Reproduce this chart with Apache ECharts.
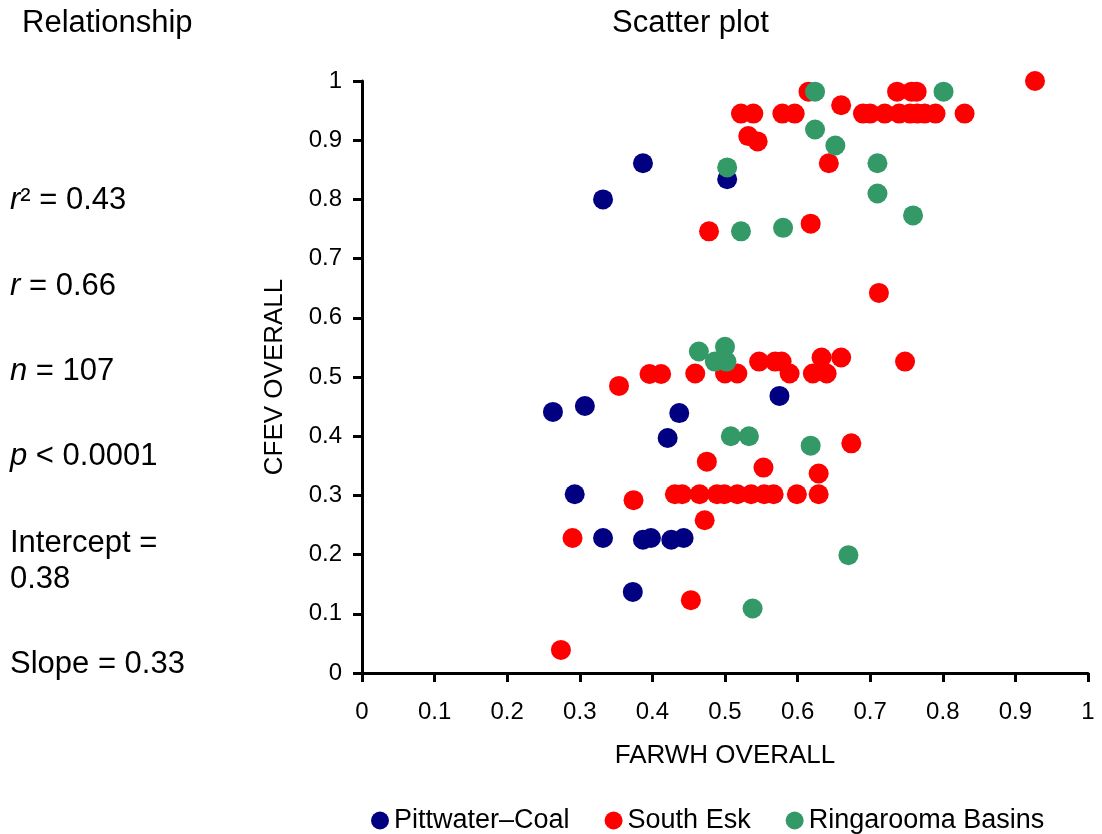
<!DOCTYPE html>
<html>
<head>
<meta charset="utf-8">
<script src="https://cdn.jsdelivr.net/npm/echarts@6/dist/echarts.min.js"></script>
<style>
  html, body { margin: 0; padding: 0; background: #fff; }
  #chart { width: 1102px; height: 834px; }
</style>
</head>
<body>
<div id="chart"></div>
<script>
// FARWH overall (x), CFEV overall (y) per catchment group
const pittwaterX = [0.387, 0.332, 0.503, 0.263, 0.307, 0.437, 0.421, 0.575, 0.293, 0.332, 0.387, 0.398, 0.426, 0.443, 0.373];
const pittwaterY = [0.861, 0.800, 0.834, 0.441, 0.451, 0.439, 0.397, 0.468, 0.302, 0.228, 0.225, 0.228, 0.225, 0.228, 0.137];

const southEskX = [
  0.615, 0.737, 0.757, 0.764, 0.927,
  0.522, 0.539, 0.579, 0.596, 0.660,
  0.690, 0.700, 0.720, 0.740, 0.755, 0.765, 0.775, 0.790, 0.830,
  0.532, 0.545, 0.643, 0.478, 0.618, 0.712,
  0.354, 0.396, 0.412, 0.459, 0.500, 0.517, 0.547, 0.569, 0.578, 0.589,
  0.621, 0.640, 0.633, 0.660, 0.748, 0.674, 0.475, 0.553, 0.629,
  0.431, 0.441, 0.465, 0.489, 0.499, 0.517, 0.536, 0.554, 0.567, 0.599, 0.629,
  0.374, 0.472, 0.290, 0.453, 0.274
];
const southEskY = [
  0.982, 0.982, 0.982, 0.982, 1.000,
  0.945, 0.945, 0.945, 0.945, 0.959,
  0.945, 0.945, 0.945, 0.945, 0.945, 0.945, 0.945, 0.945, 0.945,
  0.907, 0.898, 0.861, 0.746, 0.759, 0.642,
  0.485, 0.505, 0.505, 0.506, 0.506, 0.506, 0.526, 0.526, 0.526, 0.506,
  0.506, 0.506, 0.533, 0.533, 0.526, 0.388, 0.357, 0.347, 0.337,
  0.302, 0.302, 0.302, 0.302, 0.302, 0.302, 0.302, 0.302, 0.302, 0.302, 0.302,
  0.292, 0.258, 0.228, 0.123, 0.039
];

const ringaroomaX = [0.624, 0.801, 0.624, 0.652, 0.710, 0.710, 0.759, 0.503, 0.522, 0.580, 0.464, 0.500, 0.486, 0.502, 0.508, 0.533, 0.618, 0.670, 0.538];
const ringaroomaY = [0.982, 0.982, 0.918, 0.891, 0.861, 0.810, 0.773, 0.854, 0.746, 0.752, 0.543, 0.551, 0.526, 0.526, 0.400, 0.400, 0.384, 0.199, 0.109];

const seriesNames = ['Pittwater\u2013Coal', 'South Esk', 'Ringarooma Basins'];
const seriesColors = ['#000080', '#ff0000', '#339966'];

const statLines = [
  { text: '{i|r}\u00b2 = 0.43', y: 199 },
  { text: '{i|r} = 0.66', y: 285 },
  { text: '{i|n} = 107', y: 370 },
  { text: '{i|p} < 0.0001', y: 455 },
  { text: 'Intercept =', y: 542 },
  { text: '0.38', y: 578 },
  { text: 'Slope = 0.33', y: 663 }
];

const FONT = '"Liberation Sans", Arial, Helvetica, sans-serif';
const BIG = 31;

const zip = (xs, ys) => xs.map((x, i) => [x, ys[i]]);
const groups = [zip(pittwaterX, pittwaterY), zip(southEskX, southEskY), zip(ringaroomaX, ringaroomaY)];

const chart = echarts.init(document.getElementById('chart'));

const axisCommon = {
  type: 'value',
  min: 0,
  max: 1,
  interval: 0.1,
  nameLocation: 'middle',
  nameTextStyle: { color: '#000', fontSize: 26, fontFamily: FONT },
  axisLine: { show: true, lineStyle: { color: '#000', width: 3 } },
  axisTick: { show: true, length: 9, lineStyle: { color: '#000', width: 3 } },
  axisLabel: { color: '#000', fontSize: 24, fontFamily: FONT },
  splitLine: { show: false }
};

const option = {
  backgroundColor: '#fff',
  animation: false,
  textStyle: { fontFamily: FONT },
  grid: { left: 362, top: 81, right: 14, bottom: 161 },
  xAxis: Object.assign({}, axisCommon, {
    name: 'FARWH OVERALL',
    nameGap: 70,
    axisLabel: Object.assign({}, axisCommon.axisLabel, { margin: 27 })
  }),
  yAxis: Object.assign({}, axisCommon, {
    name: 'CFEV OVERALL',
    nameGap: 74,
    nameRotate: 90,
    axisLabel: Object.assign({}, axisCommon.axisLabel, { margin: 20 })
  }),
  legend: {
    left: 366,
    top: 802,
    icon: 'circle',
    itemWidth: 18,
    itemHeight: 18,
    itemGap: 35,
    textStyle: { color: '#000', fontSize: 27, fontFamily: FONT },
    data: seriesNames
  },
  series: groups.map((data, i) => ({
    name: seriesNames[i],
    type: 'scatter',
    symbol: 'circle',
    symbolSize: 20,
    itemStyle: { color: seriesColors[i], opacity: 1 },
    data: data
  })),
  graphic: [
    {
      type: 'text', left: 612, top: 8,
      style: { text: 'Scatter plot', fill: '#000', font: BIG + 'px ' + FONT }
    },
    {
      type: 'text', left: 22, top: 8,
      style: { text: 'Relationship', fill: '#000', font: BIG + 'px ' + FONT }
    }
  ].concat(statLines.map(s => ({
    type: 'text',
    left: 10,
    top: s.y - 14,
    style: {
      text: s.text,
      fill: '#000',
      font: BIG + 'px ' + FONT,
      rich: {
        i: { fontStyle: 'italic', fontSize: BIG, fontFamily: FONT, fill: '#000' }
      }
    }
  })))
};

chart.setOption(option);
</script>
</body>
</html>
